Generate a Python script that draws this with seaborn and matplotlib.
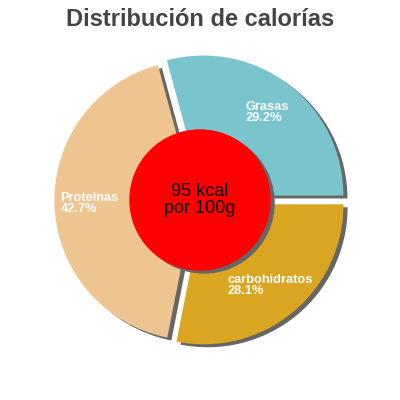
import matplotlib
matplotlib.use("Agg")
import matplotlib.pyplot as plt
import seaborn as sns

categories = ["Grasas", "Proteínas", "carbohidratos"]
percentages = [29.2, 42.7, 28.1]
colors = ["#7AC5CD", "#EEC591", "#DAA520"]
kcal = 95
title = "Distribución de calorías"

sns.set_theme(style="white")
plt.rcParams["font.family"] = ["Liberation Sans", "DejaVu Sans"]

DPI = 100
fig = plt.figure(figsize=(4, 4), dpi=DPI)
ax = fig.add_axes([0, 0, 1, 1])

# shadow offset: Shadow applies points_to_pixels to data-space offsets
sx, sy = 0.029, -0.021
scale = 72 / DPI
labels = [f"{c}\n{p}%" for c, p in zip(categories, percentages)]
shadow = {"ox": sx * scale, "oy": sy * scale, "facecolor": "#666666",
          "edgecolor": "#666666", "alpha": 1.0}
wedges, texts = ax.pie(percentages, labels=labels, colors=colors,
                       startangle=0, counterclock=True,
                       explode=[0.04] * len(percentages), radius=1.0,
                       labeldistance=0.75, shadow=shadow,
                       wedgeprops={"linewidth": 0},
                       textprops={"color": "white", "fontsize": 9.2,
                                  "fontweight": "bold"})
for t in texts:
    t.set_horizontalalignment("center")
    t.set_verticalalignment("center")
    t.set_multialignment("left")
    t.set_linespacing(0.9)

ax.set_xlim(-200 / 140, 200 / 140)
ax.set_ylim(-200 / 140, 200 / 140)
ax.set_aspect("equal")
ax.axis("off")

circ_shadow = plt.Circle((sx, sy), 0.5, color="#666666", zorder=5)
ax.add_patch(circ_shadow)
ax.add_patch(plt.Circle((0, 0), 0.5, color="red", zorder=6))
ax.text(0, 0, f"{kcal} kcal\npor 100g", ha="center", va="center",
        fontsize=13, color="black", zorder=7, linespacing=1.0)

fig.text(0.5, 0.952, title, ha="center", va="center", fontsize=17,
         fontweight="bold", color="#444444")

fig.savefig("out.png", dpi=DPI)
